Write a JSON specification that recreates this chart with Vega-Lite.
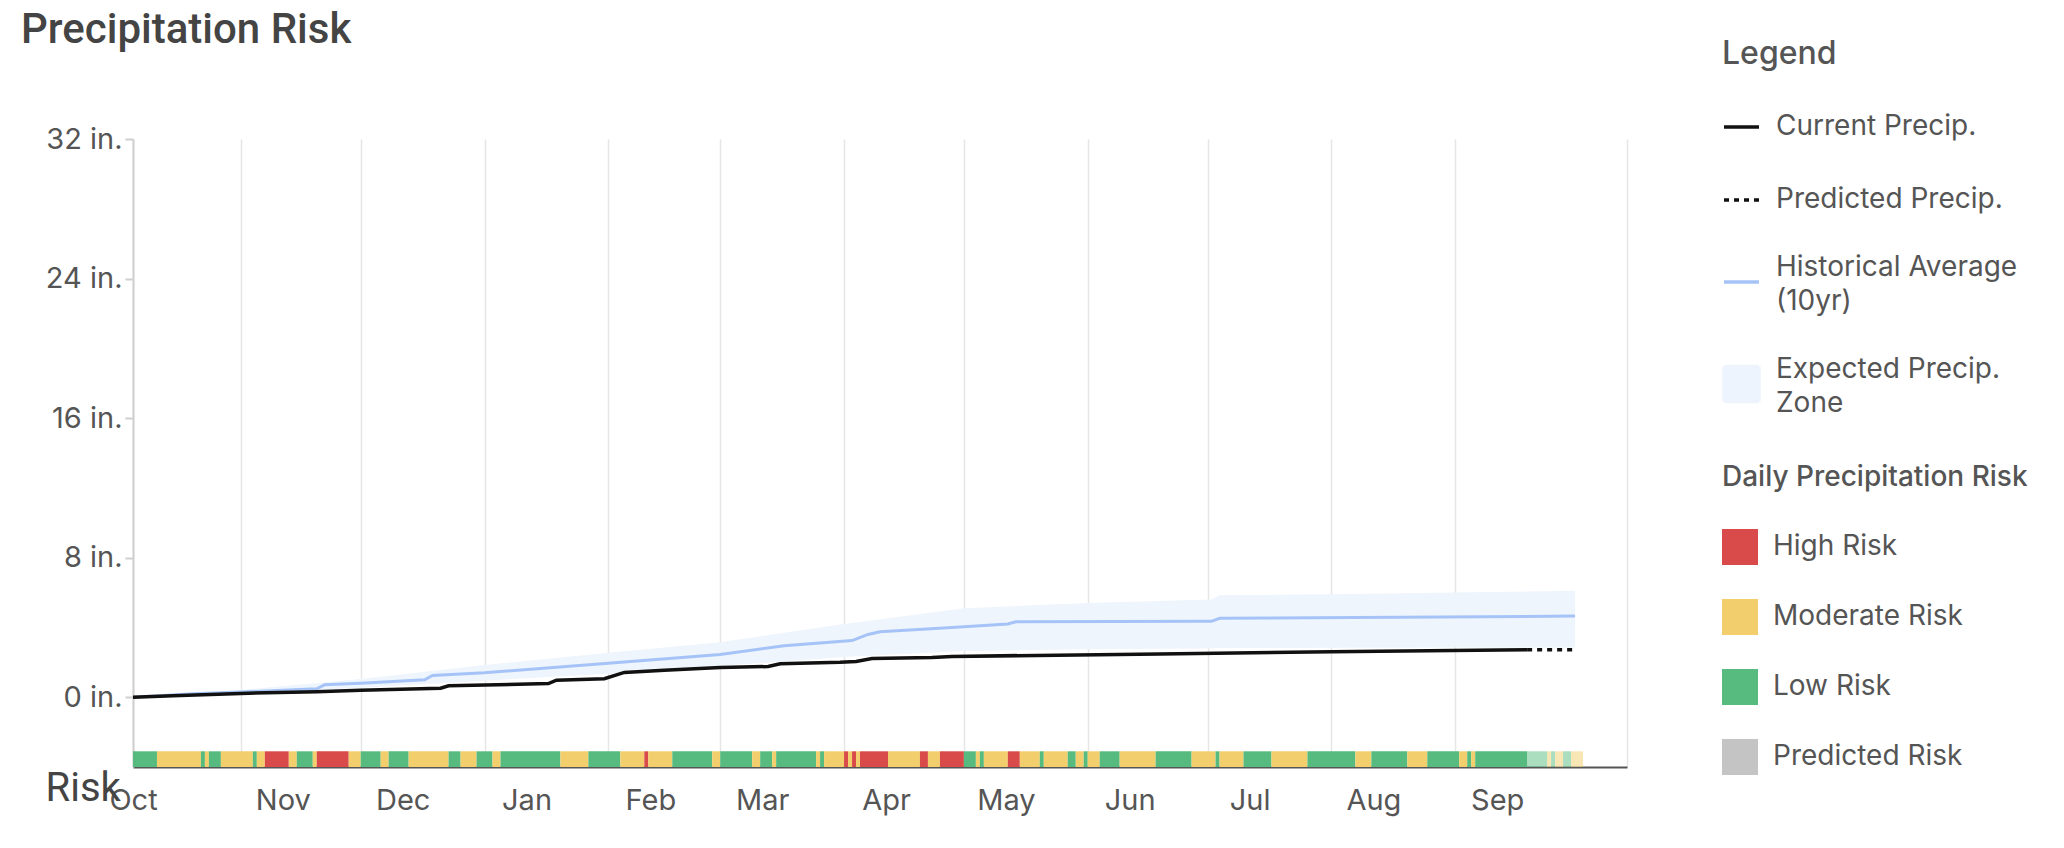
{
  "$schema": "https://vega.github.io/schema/vega-lite/v6.json",
  "width": 1494,
  "height": 628,
  "autosize": {"type": "none"},
  "padding": {"left": 133, "top": 139, "right": 437, "bottom": 81},
  "background": "white",
  "title": {"text": "Precipitation Risk", "anchor": "start", "frame": "group", "dx": -112, "offset": -46, "baseline": "alphabetic", "font": "Roboto", "fontSize": 42, "fontWeight": 500, "color": "#444444"},
  "config": {"view": {"stroke": null}, "font": "Roboto", "style": {"guide-label": {"lineHeight": 34}}},
  "datasets": {
    "zone": [
      {"date": "2024-10-05", "lo": 0.0, "hi": 0.0},
      {"date": "2024-11-01", "lo": 0.18, "hi": 0.42},
      {"date": "2024-12-01", "lo": 0.55, "hi": 1.05},
      {"date": "2025-01-01", "lo": 0.95, "hi": 1.85},
      {"date": "2025-02-01", "lo": 1.35, "hi": 2.55},
      {"date": "2025-03-01", "lo": 1.8, "hi": 3.15},
      {"date": "2025-04-01", "lo": 2.3, "hi": 4.2},
      {"date": "2025-05-01", "lo": 2.65, "hi": 5.1},
      {"date": "2025-06-01", "lo": 2.75, "hi": 5.4},
      {"date": "2025-07-02", "lo": 2.8, "hi": 5.6},
      {"date": "2025-07-04", "lo": 2.82, "hi": 5.85},
      {"date": "2025-08-01", "lo": 2.83, "hi": 5.9},
      {"date": "2025-09-01", "lo": 2.85, "hi": 6.0},
      {"date": "2025-10-01", "lo": 2.85, "hi": 6.1}
    ],
    "hist": [
      {"date": "2024-10-05", "value": 0.0},
      {"date": "2024-10-20", "value": 0.2},
      {"date": "2024-11-01", "value": 0.3},
      {"date": "2024-11-20", "value": 0.48},
      {"date": "2024-11-22", "value": 0.72},
      {"date": "2024-12-01", "value": 0.8},
      {"date": "2024-12-17", "value": 1.0},
      {"date": "2024-12-19", "value": 1.25},
      {"date": "2025-01-01", "value": 1.4},
      {"date": "2025-02-01", "value": 1.95},
      {"date": "2025-03-01", "value": 2.45},
      {"date": "2025-03-17", "value": 2.95},
      {"date": "2025-04-03", "value": 3.25},
      {"date": "2025-04-07", "value": 3.6},
      {"date": "2025-04-10", "value": 3.75},
      {"date": "2025-04-28", "value": 4.0},
      {"date": "2025-05-12", "value": 4.2},
      {"date": "2025-05-14", "value": 4.32},
      {"date": "2025-07-02", "value": 4.35},
      {"date": "2025-07-04", "value": 4.52},
      {"date": "2025-10-01", "value": 4.65}
    ],
    "current": [
      {"date": "2024-10-05", "value": 0.0},
      {"date": "2024-10-15", "value": 0.08},
      {"date": "2024-11-01", "value": 0.22},
      {"date": "2024-11-20", "value": 0.32},
      {"date": "2024-12-01", "value": 0.4},
      {"date": "2024-12-21", "value": 0.52},
      {"date": "2024-12-23", "value": 0.66},
      {"date": "2025-01-17", "value": 0.78},
      {"date": "2025-01-19", "value": 0.98},
      {"date": "2025-01-31", "value": 1.06},
      {"date": "2025-02-05", "value": 1.42},
      {"date": "2025-02-15", "value": 1.55},
      {"date": "2025-03-01", "value": 1.7},
      {"date": "2025-03-13", "value": 1.76},
      {"date": "2025-03-16", "value": 1.92},
      {"date": "2025-03-31", "value": 2.0},
      {"date": "2025-04-04", "value": 2.05},
      {"date": "2025-04-08", "value": 2.22},
      {"date": "2025-04-23", "value": 2.28},
      {"date": "2025-04-28", "value": 2.34},
      {"date": "2025-06-19", "value": 2.48},
      {"date": "2025-08-01", "value": 2.6},
      {"date": "2025-09-19", "value": 2.72}
    ],
    "predicted": [
      {"date": "2025-09-19", "value": 2.72},
      {"date": "2025-10-01", "value": 2.72}
    ],
    "risk": [
      {"start": "2024-10-05", "end": "2024-10-11", "risk": "Low Risk", "predicted": false},
      {"start": "2024-10-11", "end": "2024-10-22", "risk": "Moderate Risk", "predicted": false},
      {"start": "2024-10-22", "end": "2024-10-23", "risk": "Low Risk", "predicted": false},
      {"start": "2024-10-23", "end": "2024-10-24", "risk": "Moderate Risk", "predicted": false},
      {"start": "2024-10-24", "end": "2024-10-27", "risk": "Low Risk", "predicted": false},
      {"start": "2024-10-27", "end": "2024-11-04", "risk": "Moderate Risk", "predicted": false},
      {"start": "2024-11-04", "end": "2024-11-05", "risk": "Low Risk", "predicted": false},
      {"start": "2024-11-05", "end": "2024-11-07", "risk": "Moderate Risk", "predicted": false},
      {"start": "2024-11-07", "end": "2024-11-13", "risk": "High Risk", "predicted": false},
      {"start": "2024-11-13", "end": "2024-11-15", "risk": "Moderate Risk", "predicted": false},
      {"start": "2024-11-15", "end": "2024-11-19", "risk": "Low Risk", "predicted": false},
      {"start": "2024-11-19", "end": "2024-11-20", "risk": "Moderate Risk", "predicted": false},
      {"start": "2024-11-20", "end": "2024-11-28", "risk": "High Risk", "predicted": false},
      {"start": "2024-11-28", "end": "2024-12-01", "risk": "Moderate Risk", "predicted": false},
      {"start": "2024-12-01", "end": "2024-12-06", "risk": "Low Risk", "predicted": false},
      {"start": "2024-12-06", "end": "2024-12-08", "risk": "Moderate Risk", "predicted": false},
      {"start": "2024-12-08", "end": "2024-12-13", "risk": "Low Risk", "predicted": false},
      {"start": "2024-12-13", "end": "2024-12-23", "risk": "Moderate Risk", "predicted": false},
      {"start": "2024-12-23", "end": "2024-12-26", "risk": "Low Risk", "predicted": false},
      {"start": "2024-12-26", "end": "2024-12-30", "risk": "Moderate Risk", "predicted": false},
      {"start": "2024-12-30", "end": "2025-01-03", "risk": "Low Risk", "predicted": false},
      {"start": "2025-01-03", "end": "2025-01-05", "risk": "Moderate Risk", "predicted": false},
      {"start": "2025-01-05", "end": "2025-01-20", "risk": "Low Risk", "predicted": false},
      {"start": "2025-01-20", "end": "2025-01-27", "risk": "Moderate Risk", "predicted": false},
      {"start": "2025-01-27", "end": "2025-02-04", "risk": "Low Risk", "predicted": false},
      {"start": "2025-02-04", "end": "2025-02-10", "risk": "Moderate Risk", "predicted": false},
      {"start": "2025-02-10", "end": "2025-02-11", "risk": "High Risk", "predicted": false},
      {"start": "2025-02-11", "end": "2025-02-17", "risk": "Moderate Risk", "predicted": false},
      {"start": "2025-02-17", "end": "2025-02-27", "risk": "Low Risk", "predicted": false},
      {"start": "2025-02-27", "end": "2025-03-01", "risk": "Moderate Risk", "predicted": false},
      {"start": "2025-03-01", "end": "2025-03-09", "risk": "Low Risk", "predicted": false},
      {"start": "2025-03-09", "end": "2025-03-11", "risk": "Moderate Risk", "predicted": false},
      {"start": "2025-03-11", "end": "2025-03-14", "risk": "Low Risk", "predicted": false},
      {"start": "2025-03-14", "end": "2025-03-15", "risk": "Moderate Risk", "predicted": false},
      {"start": "2025-03-15", "end": "2025-03-25", "risk": "Low Risk", "predicted": false},
      {"start": "2025-03-25", "end": "2025-03-26", "risk": "Moderate Risk", "predicted": false},
      {"start": "2025-03-26", "end": "2025-03-27", "risk": "Low Risk", "predicted": false},
      {"start": "2025-03-27", "end": "2025-04-01", "risk": "Moderate Risk", "predicted": false},
      {"start": "2025-04-01", "end": "2025-04-02", "risk": "High Risk", "predicted": false},
      {"start": "2025-04-02", "end": "2025-04-03", "risk": "Moderate Risk", "predicted": false},
      {"start": "2025-04-03", "end": "2025-04-04", "risk": "High Risk", "predicted": false},
      {"start": "2025-04-04", "end": "2025-04-05", "risk": "Moderate Risk", "predicted": false},
      {"start": "2025-04-05", "end": "2025-04-12", "risk": "High Risk", "predicted": false},
      {"start": "2025-04-12", "end": "2025-04-20", "risk": "Moderate Risk", "predicted": false},
      {"start": "2025-04-20", "end": "2025-04-22", "risk": "High Risk", "predicted": false},
      {"start": "2025-04-22", "end": "2025-04-25", "risk": "Moderate Risk", "predicted": false},
      {"start": "2025-04-25", "end": "2025-05-01", "risk": "High Risk", "predicted": false},
      {"start": "2025-05-01", "end": "2025-05-04", "risk": "Low Risk", "predicted": false},
      {"start": "2025-05-04", "end": "2025-05-05", "risk": "Moderate Risk", "predicted": false},
      {"start": "2025-05-05", "end": "2025-05-06", "risk": "Low Risk", "predicted": false},
      {"start": "2025-05-06", "end": "2025-05-12", "risk": "Moderate Risk", "predicted": false},
      {"start": "2025-05-12", "end": "2025-05-15", "risk": "High Risk", "predicted": false},
      {"start": "2025-05-15", "end": "2025-05-20", "risk": "Moderate Risk", "predicted": false},
      {"start": "2025-05-20", "end": "2025-05-21", "risk": "Low Risk", "predicted": false},
      {"start": "2025-05-21", "end": "2025-05-27", "risk": "Moderate Risk", "predicted": false},
      {"start": "2025-05-27", "end": "2025-05-29", "risk": "Low Risk", "predicted": false},
      {"start": "2025-05-29", "end": "2025-05-31", "risk": "Moderate Risk", "predicted": false},
      {"start": "2025-05-31", "end": "2025-06-01", "risk": "Low Risk", "predicted": false},
      {"start": "2025-06-01", "end": "2025-06-04", "risk": "Moderate Risk", "predicted": false},
      {"start": "2025-06-04", "end": "2025-06-09", "risk": "Low Risk", "predicted": false},
      {"start": "2025-06-09", "end": "2025-06-18", "risk": "Moderate Risk", "predicted": false},
      {"start": "2025-06-18", "end": "2025-06-27", "risk": "Low Risk", "predicted": false},
      {"start": "2025-06-27", "end": "2025-07-03", "risk": "Moderate Risk", "predicted": false},
      {"start": "2025-07-03", "end": "2025-07-04", "risk": "Low Risk", "predicted": false},
      {"start": "2025-07-04", "end": "2025-07-10", "risk": "Moderate Risk", "predicted": false},
      {"start": "2025-07-10", "end": "2025-07-17", "risk": "Low Risk", "predicted": false},
      {"start": "2025-07-17", "end": "2025-07-26", "risk": "Moderate Risk", "predicted": false},
      {"start": "2025-07-26", "end": "2025-08-07", "risk": "Low Risk", "predicted": false},
      {"start": "2025-08-07", "end": "2025-08-11", "risk": "Moderate Risk", "predicted": false},
      {"start": "2025-08-11", "end": "2025-08-20", "risk": "Low Risk", "predicted": false},
      {"start": "2025-08-20", "end": "2025-08-25", "risk": "Moderate Risk", "predicted": false},
      {"start": "2025-08-25", "end": "2025-09-02", "risk": "Low Risk", "predicted": false},
      {"start": "2025-09-02", "end": "2025-09-04", "risk": "Moderate Risk", "predicted": false},
      {"start": "2025-09-04", "end": "2025-09-05", "risk": "Low Risk", "predicted": false},
      {"start": "2025-09-05", "end": "2025-09-06", "risk": "Moderate Risk", "predicted": false},
      {"start": "2025-09-06", "end": "2025-09-19", "risk": "Low Risk", "predicted": false},
      {"start": "2025-09-19", "end": "2025-09-24", "risk": "Low Risk", "predicted": true},
      {"start": "2025-09-24", "end": "2025-09-25", "risk": "Moderate Risk", "predicted": true},
      {"start": "2025-09-25", "end": "2025-09-26", "risk": "Low Risk", "predicted": true},
      {"start": "2025-09-26", "end": "2025-09-28", "risk": "Moderate Risk", "predicted": true},
      {"start": "2025-09-28", "end": "2025-09-30", "risk": "Low Risk", "predicted": true},
      {"start": "2025-09-30", "end": "2025-10-03", "risk": "Moderate Risk", "predicted": true}
    ],
    "legendItems": [
      {"series": "Current Precip."},
      {"series": "Predicted Precip."},
      {"series": "Historical Average (10yr)"},
      {"series": "Expected Precip. Zone"}
    ]
  },
  "layer": [
    {
      "data": {"name": "zone"},
      "mark": {"type": "area", "color": "#eff5fc", "opacity": 1},
      "encoding": {
        "x": {
          "field": "date", "type": "temporal",
          "scale": {"type": "utc", "domain": [1728086400000, 1760400000000]},
          "axis": {
            "title": null,
            "values": [1728086400000, 1730419200000, 1733011200000, 1735689600000, 1738368000000, 1740787200000, 1743465600000, 1746057600000, 1748736000000, 1751328000000, 1754006400000, 1756684800000, 1760400000000],
            "labelExpr": "datum.value > 1759000000000 ? '' : utcFormat(datum.value, '%b')",
            "labelOffset": {"condition": {"test": "datum.value < 1730000000000", "value": 0}, "value": 42},
            "labelFlush": false, "labelOverlap": false,
            "grid": true, "gridColor": "#e6e6e6", "gridWidth": 1.5,
            "ticks": false, "tickSize": 0,
            "domain": true, "domainColor": "#555555", "domainWidth": 2,
            "labelFont": "Inter", "labelFontSize": 29, "labelColor": "#555555", "labelPadding": 19
          }
        },
        "y": {
          "field": "lo", "type": "quantitative",
          "scale": {"domain": [-4, 32], "nice": false, "zero": false},
          "axis": {
            "title": "Risk", "titleAngle": 0, "titleX": -88, "titleY": 661, "titleAlign": "left", "titleBaseline": "alphabetic",
            "titleFont": "Roboto", "titleFontSize": 40, "titleFontWeight": 400, "titleColor": "#444444",
            "values": [0, 8, 16, 24, 32],
            "labelExpr": "datum.value + ' in.'",
            "labelFlush": false, "labelOverlap": false,
            "grid": false,
            "tickSize": 8, "tickColor": "#cfcfcf", "tickWidth": 2,
            "domainColor": "#cfcfcf", "domainWidth": 2,
            "labelFont": "Inter", "labelFontSize": 29, "labelColor": "#555555", "labelPadding": 3
          }
        },
        "y2": {"field": "hi"}
      }
    },
    {
      "data": {"name": "hist"},
      "mark": {"type": "line", "color": "#a6c3f7", "strokeWidth": 3},
      "encoding": {
        "x": {"field": "date", "type": "temporal", "scale": {"type": "utc", "domain": [1728086400000, 1760400000000]}},
        "y": {"field": "value", "type": "quantitative", "scale": {"domain": [-4, 32], "nice": false, "zero": false}}
      }
    },
    {
      "data": {"name": "current"},
      "mark": {"type": "line", "color": "#111111", "strokeWidth": 3.5},
      "encoding": {
        "x": {"field": "date", "type": "temporal", "scale": {"type": "utc", "domain": [1728086400000, 1760400000000]}},
        "y": {"field": "value", "type": "quantitative", "scale": {"domain": [-4, 32], "nice": false, "zero": false}}
      }
    },
    {
      "data": {"name": "predicted"},
      "mark": {"type": "line", "color": "#111111", "strokeWidth": 3.5, "strokeDash": [5, 5]},
      "encoding": {
        "x": {"field": "date", "type": "temporal", "scale": {"type": "utc", "domain": [1728086400000, 1760400000000]}},
        "y": {"field": "value", "type": "quantitative", "scale": {"domain": [-4, 32], "nice": false, "zero": false}}
      }
    },
    {
      "data": {"name": "risk"},
      "mark": {"type": "rect", "strokeWidth": 0},
      "encoding": {
        "x": {"field": "start", "type": "temporal", "scale": {"type": "utc", "domain": [1728086400000, 1760400000000]}},
        "x2": {"field": "end"},
        "y": {"datum": -4, "type": "quantitative", "scale": {"domain": [-4, 32], "nice": false, "zero": false}},
        "y2": {"datum": -3.1},
        "color": {
          "field": "risk", "type": "nominal",
          "scale": {"domain": ["High Risk", "Moderate Risk", "Low Risk", "Predicted Risk"], "range": ["#d94a4a", "#f2cf6c", "#57bb7f", "#c4c4c4"]},
          "legend": {
            "title": "Daily Precipitation Risk", "orient": "none", "legendX": 1589, "legendY": 325,
            "symbolType": "square", "symbolSize": 1296, "symbolStrokeWidth": 0, "symbolOpacity": 1,
            "labelFont": "Inter", "labelFontSize": 28, "labelColor": "#555555", "labelOffset": 15, "labelLimit": 400,
            "titleFont": "Inter", "titleFontSize": 28, "titleFontWeight": 500, "titleColor": "#555555", "titlePadding": 37, "titleLimit": 500,
            "rowPadding": 34, "padding": 0
          }
        },
        "opacity": {"condition": {"test": "datum.predicted", "value": 0.5}, "value": 1}
      }
    },
    {
      "data": {"name": "legendItems"},
      "mark": {"type": "point", "opacity": 0, "fill": "#eef4fd", "strokeWidth": 3.5},
      "encoding": {
        "stroke": {
          "field": "series", "type": "nominal",
          "scale": {"domain": ["Current Precip.", "Predicted Precip.", "Historical Average (10yr)", "Expected Precip. Zone"], "range": ["#111111", "#111111", "#a6c3f7", "#eef4fd"]},
          "legend": {
            "title": "Legend", "orient": "none", "legendX": 1589, "legendY": -100.5,
            "symbolSize": 1225, "symbolOpacity": 1, "symbolStrokeWidth": 3.5,
            "labelFont": "Inter", "labelFontSize": 28, "labelColor": "#555555", "labelOffset": 15, "labelLimit": 400,
            "labelExpr": "datum.label == 'Historical Average (10yr)' ? ['Historical Average', '(10yr)'] : datum.label == 'Expected Precip. Zone' ? ['Expected Precip.', 'Zone'] : datum.label",
            "titleFont": "Inter", "titleFontSize": 32, "titleFontWeight": 500, "titleColor": "#555555", "titlePadding": 37,
            "rowPadding": 39, "padding": 0,
            "encoding": {"labels": {"baseline": {"condition": {"test": "datum.label == 'Historical Average (10yr)' || datum.label == 'Expected Precip. Zone'", "value": "bottom"}, "value": "middle"}}}
          }
        },
        "shape": {
          "field": "series", "type": "nominal",
          "scale": {"domain": ["Current Precip.", "Predicted Precip.", "Historical Average (10yr)", "Expected Precip. Zone"], "range": ["stroke", "stroke", "stroke", "square"]},
          "legend": {
            "title": "Legend", "orient": "none", "legendX": 1589, "legendY": -100.5,
            "symbolSize": 1225, "symbolOpacity": 1, "symbolStrokeWidth": 3.5,
            "labelFont": "Inter", "labelFontSize": 28, "labelColor": "#555555", "labelOffset": 15, "labelLimit": 400,
            "labelExpr": "datum.label == 'Historical Average (10yr)' ? ['Historical Average', '(10yr)'] : datum.label == 'Expected Precip. Zone' ? ['Expected Precip.', 'Zone'] : datum.label",
            "titleFont": "Inter", "titleFontSize": 32, "titleFontWeight": 500, "titleColor": "#555555", "titlePadding": 37,
            "rowPadding": 39, "padding": 0,
            "encoding": {"labels": {"baseline": {"condition": {"test": "datum.label == 'Historical Average (10yr)' || datum.label == 'Expected Precip. Zone'", "value": "bottom"}, "value": "middle"}}}
          }
        },
        "strokeDash": {
          "field": "series", "type": "nominal",
          "scale": {"domain": ["Current Precip.", "Predicted Precip.", "Historical Average (10yr)", "Expected Precip. Zone"], "range": [[1, 0], [5, 5], [1, 0], [1, 0]]},
          "legend": {
            "title": "Legend", "orient": "none", "legendX": 1589, "legendY": -100.5,
            "symbolSize": 1225, "symbolOpacity": 1, "symbolStrokeWidth": 3.5,
            "labelFont": "Inter", "labelFontSize": 28, "labelColor": "#555555", "labelOffset": 15, "labelLimit": 400,
            "labelExpr": "datum.label == 'Historical Average (10yr)' ? ['Historical Average', '(10yr)'] : datum.label == 'Expected Precip. Zone' ? ['Expected Precip.', 'Zone'] : datum.label",
            "titleFont": "Inter", "titleFontSize": 32, "titleFontWeight": 500, "titleColor": "#555555", "titlePadding": 37,
            "rowPadding": 39, "padding": 0,
            "encoding": {"labels": {"baseline": {"condition": {"test": "datum.label == 'Historical Average (10yr)' || datum.label == 'Expected Precip. Zone'", "value": "bottom"}, "value": "middle"}}}
          }
        }
      }
    }
  ]
}
